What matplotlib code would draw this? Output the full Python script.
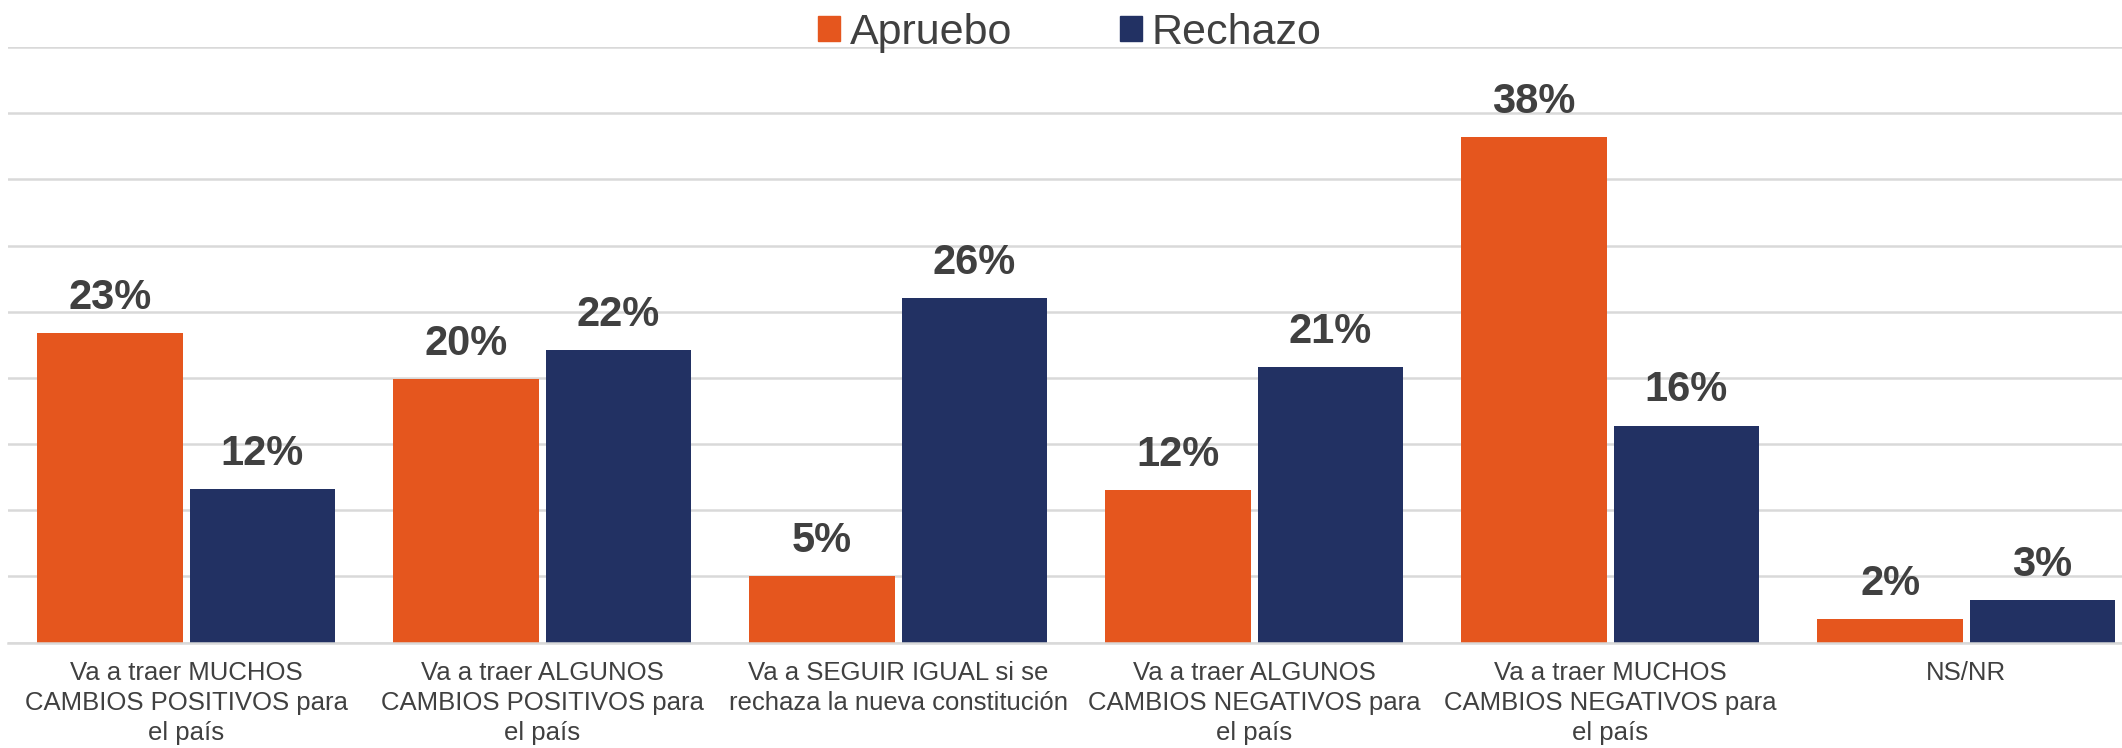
import numpy as np
import matplotlib.pyplot as plt
from matplotlib.patches import Patch

plt.rcParams['font.family'] = ['Liberation Sans', 'DejaVu Sans']

categories = [
    'Va a traer MUCHOS\nCAMBIOS POSITIVOS para\nel país',
    'Va a traer ALGUNOS\nCAMBIOS POSITIVOS para\nel país',
    'Va a SEGUIR IGUAL si se\nrechaza la nueva constitución',
    'Va a traer ALGUNOS\nCAMBIOS NEGATIVOS para\nel país',
    'Va a traer MUCHOS\nCAMBIOS NEGATIVOS para\nel país',
    'NS/NR',
]
apruebo = [23.4, 19.9, 5.0, 11.5, 38.2, 1.8]
rechazo = [11.6, 22.1, 26.0, 20.8, 16.4, 3.2]

orange = '#E5561E'
navy = '#223163'
text_c = '#404040'
grid_c = '#D9D9D9'

fig = plt.figure(figsize=(21.22, 7.48), dpi=100)
ax = fig.add_axes([0.0039, 0.1408, 1.0066, 0.7964])

x = np.arange(len(categories))
w = 0.408
off = 0.214
b1 = ax.bar(x - off, apruebo, w, color=orange, label='Apruebo', zorder=2)
b2 = ax.bar(x + off, rechazo, w, color=navy, label='Rechazo', zorder=2)

for bars, vals in [(b1, apruebo), (b2, rechazo)]:
    for rect, v in zip(bars, vals):
        ax.annotate(f'{round(v)}%', (rect.get_x() + rect.get_width() / 2, v),
                    xytext=(0, 11), textcoords='offset points',
                    ha='center', va='bottom', fontsize=30, fontweight='bold',
                    color=text_c)

ax.set_xlim(-0.5, len(categories) - 0.5)
ax.set_ylim(0, 45)
ax.set_yticks(np.arange(0, 46, 5))
ax.yaxis.grid(True, color=grid_c, linewidth=1.8, zorder=0)
ax.set_axisbelow(True)
ax.tick_params(axis='y', left=False, labelleft=False)
ax.tick_params(axis='x', length=0, pad=13)
ax.set_xticks(x)
ax.set_xticklabels(categories, fontsize=18.5, color=text_c, linespacing=1.32)
for s in ['top', 'right', 'left']:
    ax.spines[s].set_visible(False)
ax.spines['bottom'].set_color(grid_c)
ax.spines['bottom'].set_linewidth(1.8)

handles = [Patch(color=orange, label='Apruebo'), Patch(color=navy, label='Rechazo')]
fig.legend(handles=handles, loc='upper center', bbox_to_anchor=(0.504, 1.035),
           ncol=2, frameon=False, fontsize=31, handlelength=0.52,
           handleheight=0.52, handletextpad=0.22, columnspacing=2.5,
           labelcolor=text_c)

fig.savefig('out.png', dpi=100)
